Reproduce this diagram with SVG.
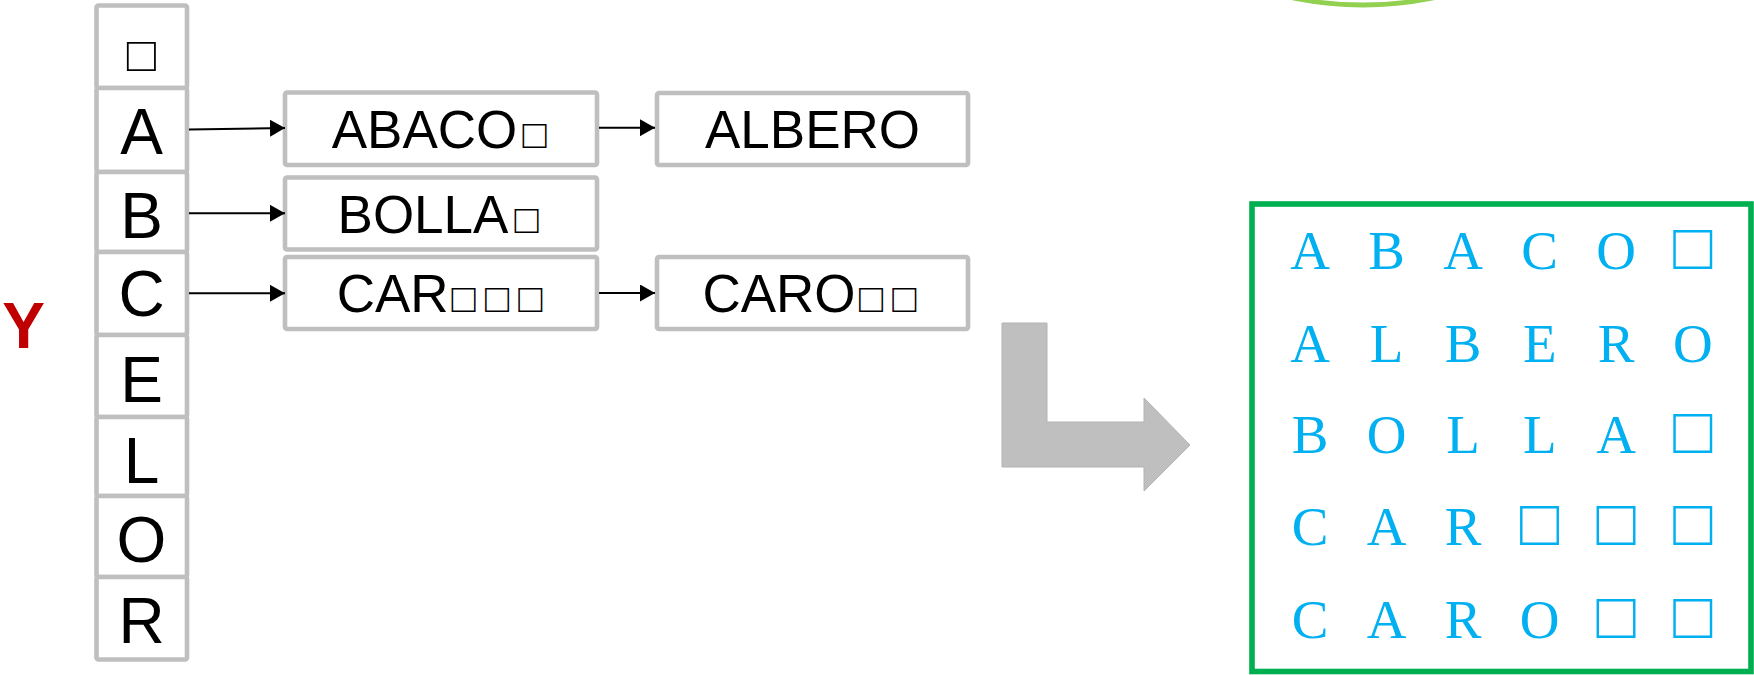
<svg xmlns="http://www.w3.org/2000/svg" width="1754" height="675" viewBox="0 0 1754 675">
  <style>
    .cell { fill: #FFFFFF; stroke: #BFBFBF; stroke-width: 4.6; }
    .key { font-family: "Liberation Sans", Arial, sans-serif; font-size: 64px; fill: #000000; text-anchor: middle; }
    .key.blank { font-size: 48.5px; }
    .word { font-family: "Liberation Sans", Arial, sans-serif; font-size: 53px; fill: #000000; text-anchor: middle; }
    .sq { font-size: 40px; }
    .link { stroke: #000000; stroke-width: 2; fill: none; marker-end: url(#head); }
    .grid { font-family: "Liberation Serif", "Times New Roman", serif; font-size: 55px; fill: #00B0F0; text-anchor: middle; }
    .grid .sq { font-family: "Liberation Sans", Arial, sans-serif; font-size: 65px; }
  </style>
  <defs>
    <marker id="head" markerUnits="userSpaceOnUse" markerWidth="16" markerHeight="17" refX="15" refY="8.5" orient="auto">
      <path d="M0,0 L15,8.5 L0,17 Z" fill="#000000"/>
    </marker>
  </defs>

  <rect width="1754" height="675" fill="#FFFFFF"/>

  <!-- partial ellipse at the top edge -->
  <ellipse id="top-ellipse" cx="1363" cy="-85" rx="180" ry="90" fill="none" stroke="#92D050" stroke-width="4.8"/>

  <!-- label of the index column -->
  <text id="label-y" x="23.5" y="348" font-family="Liberation Sans, Arial, sans-serif" font-size="64" font-weight="bold" fill="#C00000" text-anchor="middle">Y</text>

  <!-- index column -->
  <g id="index">
    <g id="key-blank"><rect class="cell" x="96.5" y="5.5" width="90.5" height="82.5" rx="2"/><text class="key blank" x="141.3" y="70.5">□</text></g>
    <g id="key-A"><rect class="cell" x="96.5" y="88" width="90.5" height="84" rx="2"/><text class="key" x="141.5" y="154">A</text></g>
    <g id="key-B"><rect class="cell" x="96.5" y="172" width="90.5" height="80" rx="2"/><text class="key" x="141.5" y="238">B</text></g>
    <g id="key-C"><rect class="cell" x="96.5" y="252" width="90.5" height="83" rx="2"/><text class="key" x="141.5" y="316">C</text></g>
    <g id="key-E"><rect class="cell" x="96.5" y="335" width="90.5" height="82" rx="2"/><text class="key" x="141.5" y="402">E</text></g>
    <g id="key-L"><rect class="cell" x="96.5" y="417" width="90.5" height="79" rx="2"/><text class="key" x="141.5" y="483">L</text></g>
    <g id="key-O"><rect class="cell" x="96.5" y="496" width="90.5" height="81" rx="2"/><text class="key" x="141.5" y="562">O</text></g>
    <g id="key-R"><rect class="cell" x="96.5" y="577" width="90.5" height="82.5" rx="2"/><text class="key" x="141.5" y="643">R</text></g>
  </g>

  <!-- word buckets -->
  <g id="word-abaco">
    <rect class="cell" x="285" y="92.5" width="312" height="72.5" rx="2"/>
    <text class="word" y="148"><tspan x="424.5">ABACO</tspan><tspan class="sq" x="534.7">□</tspan></text>
  </g>
  <g id="word-albero">
    <rect class="cell" x="657" y="93" width="311" height="72" rx="2"/>
    <text class="word" x="812.5" y="148">ALBERO</text>
  </g>
  <g id="word-bolla">
    <rect class="cell" x="285" y="177.5" width="312" height="72" rx="2"/>
    <text class="word" y="233"><tspan x="423">BOLLA</tspan><tspan class="sq" x="526.7">□</tspan></text>
  </g>
  <g id="word-car">
    <rect class="cell" x="285" y="257" width="312" height="72" rx="2"/>
    <text class="word" y="312"><tspan x="392.6">CAR</tspan><tspan class="sq" x="463.5">□</tspan><tspan class="sq" x="497">□</tspan><tspan class="sq" x="530.4">□</tspan></text>
  </g>
  <g id="word-caro">
    <rect class="cell" x="657" y="257" width="311" height="72" rx="2"/>
    <text class="word" y="312"><tspan x="779">CARO</tspan><tspan class="sq" x="871">□</tspan><tspan class="sq" x="904.3">□</tspan></text>
  </g>

  <!-- connectors -->
  <g id="connectors">
    <line class="link" x1="189" y1="129.5" x2="285" y2="128"/>
    <line class="link" x1="189" y1="213.3" x2="285" y2="213.3"/>
    <line class="link" x1="189" y1="293.3" x2="285" y2="293.3"/>
    <line class="link" x1="599" y1="127.7" x2="655" y2="127.7"/>
    <line class="link" x1="599" y1="293" x2="655" y2="293"/>
  </g>

  <!-- bent block arrow -->
  <polygon id="bent-arrow" points="1002,323 1047,323 1047,422 1144,422 1144,398 1190,445 1144,491 1144,467 1002,467" fill="#BFBFBF" stroke="#B3B3B3" stroke-width="1"/>

  <!-- sorted fixed-width table, one glyph per column -->
  <g id="table">
    <rect x="1252" y="204" width="499" height="467.5" fill="#FFFFFF" stroke="#00B050" stroke-width="5.6"/>
    <text class="grid" y="269"><tspan x="1310">A</tspan><tspan x="1386.6">B</tspan><tspan x="1463.1">A</tspan><tspan x="1539.7">C</tspan><tspan x="1616.2">O</tspan><tspan class="sq" x="1692.8">□</tspan></text>
    <text class="grid" y="361.7"><tspan x="1310">A</tspan><tspan x="1386.6">L</tspan><tspan x="1463.1">B</tspan><tspan x="1539.7">E</tspan><tspan x="1616.2">R</tspan><tspan x="1692.8">O</tspan></text>
    <text class="grid" y="453.3"><tspan x="1310">B</tspan><tspan x="1386.6">O</tspan><tspan x="1463.1">L</tspan><tspan x="1539.7">L</tspan><tspan x="1616.2">A</tspan><tspan class="sq" x="1692.8">□</tspan></text>
    <text class="grid" y="545.3"><tspan x="1310">C</tspan><tspan x="1386.6">A</tspan><tspan x="1463.1">R</tspan><tspan class="sq" x="1539.7">□</tspan><tspan class="sq" x="1616.2">□</tspan><tspan class="sq" x="1692.8">□</tspan></text>
    <text class="grid" y="637.7"><tspan x="1310">C</tspan><tspan x="1386.6">A</tspan><tspan x="1463.1">R</tspan><tspan x="1539.7">O</tspan><tspan class="sq" x="1616.2">□</tspan><tspan class="sq" x="1692.8">□</tspan></text>
  </g>
</svg>
